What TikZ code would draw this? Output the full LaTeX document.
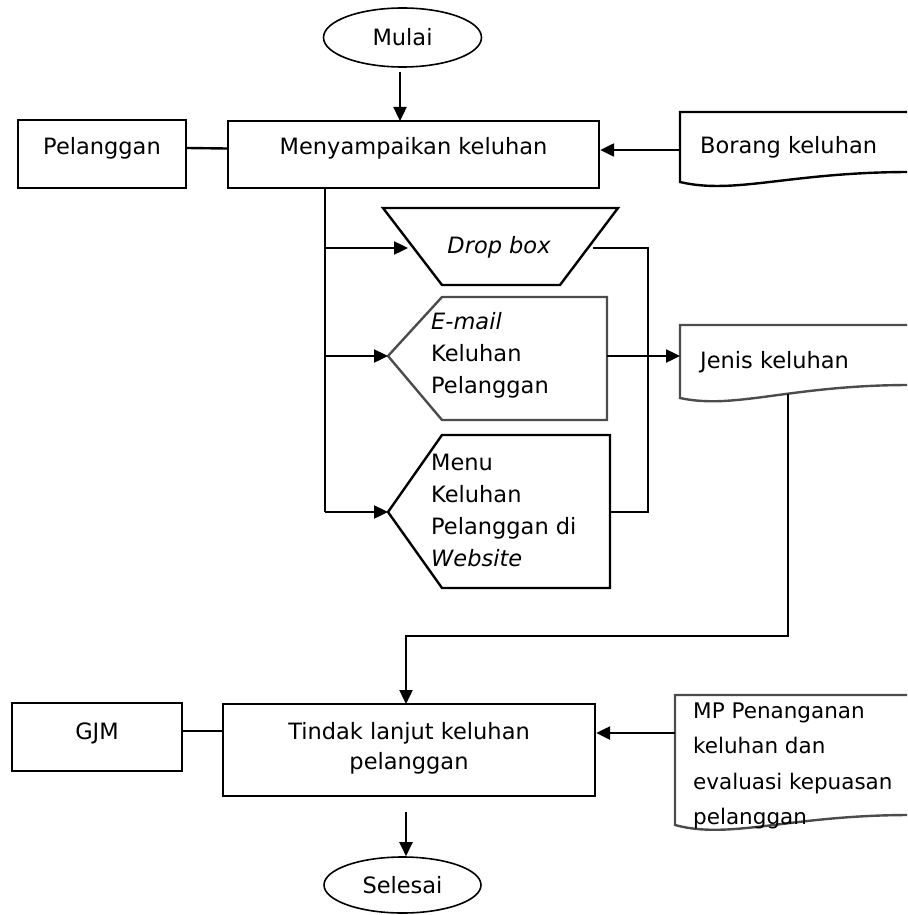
\documentclass[tikz,border=0pt]{standalone}
\usepackage{fontspec}
\setmainfont{DejaVu Sans}
\usetikzlibrary{arrows.meta,shapes.geometric}
\begin{document}
\begin{tikzpicture}[x=1pt,y=-1pt,line width=2.4pt,
  box/.style={draw,rectangle,inner sep=0pt},
  term/.style={draw,ellipse,inner sep=0pt,line width=1.6pt,font=\fontsize{22.5}{32}\selectfont},
  lbl/.style={inner sep=0pt,align=left,font=\fontsize{22.5}{32}\selectfont},
  lblc/.style={inner sep=0pt,align=center,font=\fontsize{22.5}{30}\selectfont},
  shp/.style={draw,line join=miter},
  shpg/.style={draw=black!70,line join=miter},
  arr/.style={-{Triangle[length=14pt,width=13pt]}}]
\useasboundingbox (0,0) rectangle (907,915);
\clip (0,0) rectangle (907,915);

% terminals
\node[term,minimum width=158pt,minimum height=59pt] (mulai) at (402.5,37.5) {\raisebox{-4pt}{Mulai}};
\node[term,minimum width=157pt,minimum height=56pt] (selesai) at (402.5,885) {\raisebox{-3pt}{Selesai}};

% process boxes
\node[box,minimum width=168pt,minimum height=68pt] (pelanggan) at (102,154) {};
\node[lbl] (pelangganT) at (102,148) {Pelanggan};
\node[box,minimum width=371pt,minimum height=67pt] (menyampaikan) at (413.5,154.5) {};
\node[lbl] (menyampaikanT) at (413.5,148) {Menyampaikan keluhan};
\node[box,minimum width=170pt,minimum height=68pt] (gjm) at (97,737) {};
\node[lbl] (gjmT) at (97,733) {GJM};
\node[box,minimum width=372pt,minimum height=92pt] (tindak) at (409,750) {};
\node[lblc] (tindakT) at (409,748) {Tindak lanjut keluhan\\pelanggan};

% documents
\draw[shp] (680,112) -- (910,112) -- (910,172) .. controls (790,172) and (735,195) .. (680,182) -- cycle;
\node[lbl,anchor=west] (borang) at (699,147) {Borang keluhan};
\coordinate (borangW) at (680,150);

\draw[shpg] (680,325) -- (910,325) -- (910,385) .. controls (790,385) and (735,410) .. (680,398) -- cycle;
\node[lbl,anchor=west] (jenis) at (699,362) {Jenis keluhan};
\coordinate (jenisW) at (680,356);
\coordinate (jenisS) at (788,394);

\draw[shpg] (675,695) -- (910,695) -- (910,815) .. controls (790,815) and (730,840) .. (675,825) -- cycle;
\node[inner sep=0pt,align=left,anchor=west,font=\fontsize{21.5}{35.5}\selectfont] (mp) at (692,766)
  {MP Penanganan\\keluhan dan\\evaluasi kepuasan\\pelanggan};
\coordinate (mpW) at (675,733);

% Drop box (manual input trapezium)
\draw[shp] (383,208) -- (618,208) -- (560,285) -- (442,285) -- cycle;
\node[lbl] (dropbox) at (499,247) {\itshape Drop box};
\coordinate (dbW) at (408,248);
\coordinate (dbE) at (593,248);

% E-mail (display shape)
\draw[shpg] (388,356) -- (442,297) -- (607,297) -- (607,420) -- (442,420) -- cycle;
\node[lbl,anchor=west] (email) at (430,355) {\itshape E-mail\\Keluhan\\Pelanggan};
\coordinate (emW) at (388,356);
\coordinate (emE) at (607,356);

% Menu (display shape)
\draw[shp] (388,512) -- (442,435) -- (610,435) -- (610,588) -- (442,588) -- cycle;
\node[lbl,anchor=west] (menu) at (430,510) {Menu\\Keluhan\\Pelanggan di\\\itshape Website};
\coordinate (mnW) at (388,512);
\coordinate (mnE) at (610,512);

% helper coordinates
\coordinate (trunkTop) at (325,188);
\coordinate (trunkBot) at (325,512);
\coordinate (rbTop) at (648,248);
\coordinate (rbBot) at (648,512);
\coordinate (jA) at (788,636);
\coordinate (jB) at (406,636);
\coordinate (tN) at (406,704);
\coordinate (tS) at (406,812);
\coordinate (mS) at (400,72);
\coordinate (mN) at (400,121);

% connectors
\draw[arr] (mS) -- (mN);
\draw ([yshift=6pt]pelanggan.east) -- ([yshift=6pt]menyampaikan.west);
\draw[arr] (borangW) -- (borangW -| menyampaikan.east);
\draw (trunkTop) -- (trunkBot);
\draw[arr] (trunkTop |- dbW) -- (dbW);
\draw[arr] (trunkTop |- emW) -- (emW);
\draw[arr] (trunkBot) -- (mnW);
\draw (dbE) -- (rbTop) -- (rbBot) -- (mnE);
\draw[arr] (emE) -- (jenisW);
\draw[arr] (jenisS) -- (jA) -- (jB) -- (tN);
\draw[arr] (mpW) -- (mpW -| tindak.east);
\draw ([yshift=6pt]gjm.east) -- ([yshift=6pt]gjm.east -| tindak.west);
\draw[arr] (tS) -- (tS |- selesai.north);
\end{tikzpicture}
\end{document}
